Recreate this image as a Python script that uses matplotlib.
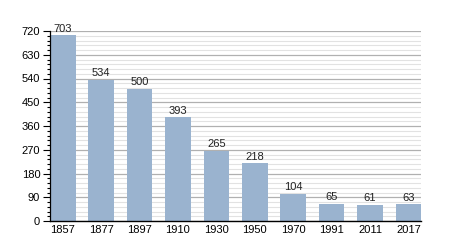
import matplotlib
matplotlib.use("Agg")
import matplotlib.pyplot as plt
from matplotlib.ticker import MultipleLocator

years = ["1857", "1877", "1897", "1910", "1930", "1950", "1970", "1991", "2011", "2017"]
population = [703, 534, 500, 393, 265, 218, 104, 65, 61, 63]

plt.rcParams['font.family'] = ['Liberation Sans', 'DejaVu Sans']

fig = plt.figure(figsize=(4.5, 2.5), dpi=100)
ax = fig.add_axes([0.111, 0.116, 0.825, 0.76])

x = list(range(len(years)))
w = 0.666
bars = ax.bar(x, population, width=w, color='#9ab3cf', zorder=3)
for xi, v in zip(x, population):
    ax.text(xi, v + 6, str(v), ha='center', va='bottom', fontsize=8, color='#222222', zorder=4)

ax.set_xlim(-w / 2, len(years) - 1 + w / 2)
ax.set_ylim(0, 720)
ax.set_xticks(x)
ax.set_xticklabels(years)
ax.yaxis.set_major_locator(MultipleLocator(90))
ax.yaxis.set_minor_locator(MultipleLocator(18))
ax.grid(axis='y', which='major', color='#b0b0b0', linewidth=0.9, zorder=1)
ax.grid(axis='y', which='minor', color='#e2e2e2', linewidth=0.8, zorder=1)
ax.tick_params(axis='y', which='major', length=5, width=0.8, labelsize=8, pad=2)
ax.tick_params(axis='y', which='minor', length=2.5, width=0.8)
ax.tick_params(axis='x', which='both', length=0, labelsize=8, pad=3)
for s in ['top', 'right']:
    ax.spines[s].set_visible(False)
ax.spines['left'].set_linewidth(0.9)
ax.spines['bottom'].set_linewidth(1.0)
ax.spines['left'].set_zorder(5)
ax.spines['bottom'].set_zorder(5)

fig.savefig('out.png', dpi=100)
